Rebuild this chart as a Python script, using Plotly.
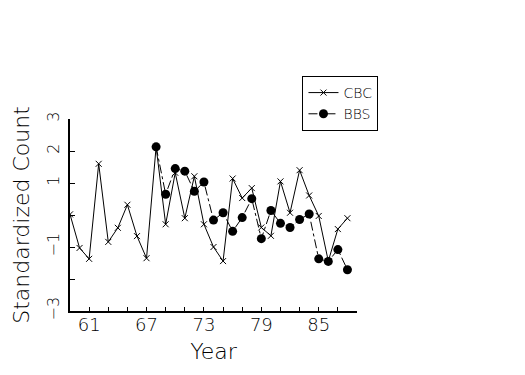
import plotly.graph_objects as go

cbc_years = list(range(59, 89))
cbc_values = [0.02, -1.03, -1.37, 1.60, -0.84, -0.40, 0.32, -0.66, -1.35, 2.13,
              -0.29, 1.32, -0.10, 1.21, -0.29, -1.00, -1.44, 1.14, 0.53, 0.84,
              -0.39, -0.65, 1.05, 0.07, 1.40, 0.61, -0.03, -1.44, -0.44, -0.10]

bbs_years = list(range(68, 89))
bbs_values = [2.13, 0.65, 1.45, 1.37, 0.74, 1.03, -0.16, 0.07, -0.51, -0.08,
              0.51, -0.74, 0.14, -0.26, -0.39, -0.14, 0.03, -1.37, -1.45, -1.08, -1.71]

x_tickvals = list(range(61, 90, 2))
x_ticktext = [str(v) if (v - 61) % 6 == 0 else "" for v in x_tickvals]
y_tickvals = [-3, -2, -1, 0, 1, 2, 3]
y_ticktext = ["\u22123", "", "\u22121", "", "1", "2", "3"]

FONT = "DejaVu Sans"

fig = go.Figure()
fig.add_trace(go.Scatter(
    x=cbc_years, y=cbc_values, mode="lines+markers", name="CBC",
    line=dict(color="black", width=1),
    marker=dict(symbol="x-thin-open", size=6, color="black", line=dict(color="black", width=1)),
))
fig.add_trace(go.Scatter(
    x=bbs_years, y=bbs_values, mode="lines+markers", name="BBS",
    line=dict(color="black", width=1, dash="dashdot"),
    marker=dict(symbol="circle", size=9, color="black"),
))

fig.update_layout(
    width=517, height=367,
    margin=dict(l=60, r=168, t=111, b=64),
    paper_bgcolor="white", plot_bgcolor="white",
    font=dict(family=FONT, color="black", weight=200),
    showlegend=True,
    legend=dict(
        x=0.81, y=1.224, xanchor="left", yanchor="top",
        bordercolor="black", borderwidth=1, bgcolor="white",
        font=dict(family=FONT, size=14, color="black", weight=200),
        tracegroupgap=0, itemwidth=30,
    ),
    xaxis=dict(
        range=[59, 89], showgrid=False, zeroline=False,
        showline=True, linecolor="black", linewidth=2,
        tickmode="array", tickvals=x_tickvals, ticktext=x_ticktext,
        ticks="inside", ticklen=4, tickcolor="black", tickwidth=1,
        tickfont=dict(family=FONT, size=18, color="black", weight=200),
        ticklabelstandoff=-4,
        title=dict(text="Year", font=dict(family=FONT, size=22, color="black", weight=200), standoff=10),
    ),
    yaxis=dict(
        range=[-3, 3], showgrid=False, zeroline=False,
        showline=True, linecolor="black", linewidth=2,
        tickmode="array", tickvals=y_tickvals, ticktext=y_ticktext,
        ticks="inside", ticklen=5, tickcolor="black", tickwidth=1,
        tickangle=-90,
        tickfont=dict(family=FONT, size=16, color="black", weight=200),
        ticklabelstandoff=3,
        title=dict(text="Standardized Count", font=dict(family=FONT, size=22, color="black", weight=200), standoff=8),
    ),
)

fig.write_html("out.html")
